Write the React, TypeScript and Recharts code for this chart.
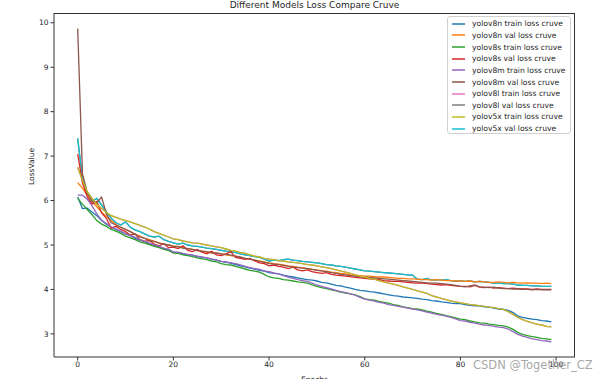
import React from 'react';
import { LineChart, Line, XAxis, YAxis, Legend } from 'recharts';

// Epoch index (x axis)
const epochs: number[] = Array.from({ length: 100 }, (_, i) => i);

const yolov8nTrain = [
  6.08, 5.82, 5.83, 5.74, 5.66, 5.55, 5.47, 5.40, 5.35, 5.30,
  5.25, 5.21, 5.15, 5.11, 5.08, 5.02, 4.99, 4.96, 4.92, 4.88,
  4.84, 4.83, 4.80, 4.78, 4.77, 4.74, 4.72, 4.71, 4.68, 4.66,
  4.63, 4.61, 4.59, 4.56, 4.53, 4.51, 4.48, 4.46, 4.43, 4.41,
  4.38, 4.36, 4.35, 4.32, 4.30, 4.28, 4.26, 4.24, 4.22, 4.21,
  4.19, 4.16, 4.15, 4.12, 4.09, 4.08, 4.05, 4.03, 4.00, 3.98,
  3.97, 3.95, 3.94, 3.92, 3.90, 3.88, 3.86, 3.85, 3.83, 3.82,
  3.81, 3.80, 3.78, 3.77, 3.75, 3.74, 3.72, 3.71, 3.69, 3.68,
  3.68, 3.66, 3.64, 3.63, 3.63, 3.61, 3.60, 3.58, 3.56, 3.55,
  3.53, 3.48, 3.40, 3.37, 3.35, 3.33, 3.32, 3.30, 3.29, 3.27,
];
const yolov8nVal = [
  6.40, 6.28, 6.12, 5.98, 5.86, 5.74, 5.64, 5.55, 5.46, 5.40,
  5.35, 5.30, 5.24, 5.20, 5.15, 5.12, 5.08, 5.05, 5.02, 5.00,
  4.98, 4.97, 4.94, 4.92, 4.90, 4.87, 4.86, 4.84, 4.82, 4.81,
  4.80, 4.78, 4.76, 4.75, 4.72, 4.70, 4.68, 4.66, 4.64, 4.62,
  4.60, 4.58, 4.57, 4.55, 4.53, 4.52, 4.50, 4.49, 4.47, 4.45,
  4.44, 4.42, 4.41, 4.39, 4.38, 4.36, 4.35, 4.33, 4.32, 4.31,
  4.30, 4.30, 4.29, 4.28, 4.28, 4.27, 4.26, 4.25, 4.25, 4.24,
  4.24, 4.23, 4.22, 4.22, 4.21, 4.22, 4.21, 4.20, 4.20, 4.19,
  4.19, 4.18, 4.19, 4.17, 4.18, 4.17, 4.16, 4.16, 4.17, 4.16,
  4.15, 4.16, 4.15, 4.14, 4.15, 4.14, 4.14, 4.13, 4.14, 4.13,
];
const yolov8sTrain = [
  6.05, 5.92, 5.80, 5.68, 5.55, 5.47, 5.42, 5.35, 5.31, 5.26,
  5.20, 5.16, 5.12, 5.07, 5.04, 5.01, 4.97, 4.94, 4.90, 4.88,
  4.82, 4.81, 4.78, 4.76, 4.74, 4.71, 4.69, 4.67, 4.64, 4.62,
  4.58, 4.56, 4.55, 4.52, 4.49, 4.46, 4.43, 4.41, 4.39, 4.34,
  4.28, 4.26, 4.25, 4.22, 4.21, 4.19, 4.17, 4.16, 4.14, 4.10,
  4.07, 4.04, 4.02, 3.99, 3.97, 3.94, 3.92, 3.90, 3.88, 3.84,
  3.79, 3.77, 3.76, 3.73, 3.71, 3.69, 3.66, 3.64, 3.61, 3.59,
  3.57, 3.56, 3.54, 3.51, 3.49, 3.46, 3.44, 3.41, 3.39, 3.36,
  3.33, 3.32, 3.29, 3.27, 3.25, 3.24, 3.22, 3.21, 3.19, 3.18,
  3.15, 3.10, 3.03, 2.99, 2.96, 2.94, 2.92, 2.90, 2.89, 2.87,
];
const yolov8sVal = [
  7.05, 6.40, 6.08, 5.92, 5.98, 5.72, 5.60, 5.38, 5.42, 5.35,
  5.30, 5.22, 5.25, 5.12, 5.08, 5.10, 5.02, 4.98, 5.03, 4.94,
  4.95, 4.92, 4.98, 4.88, 4.85, 4.90, 4.84, 4.80, 4.86, 4.78,
  4.76, 4.80, 4.85, 4.72, 4.70, 4.68, 4.70, 4.64, 4.60, 4.58,
  4.53, 4.55, 4.52, 4.50, 4.47, 4.50, 4.44, 4.42, 4.44, 4.40,
  4.38, 4.36, 4.38, 4.34, 4.32, 4.31, 4.30, 4.29, 4.27, 4.26,
  4.25, 4.24, 4.23, 4.22, 4.20, 4.19, 4.18, 4.18, 4.17, 4.16,
  4.15, 4.14, 4.15, 4.13, 4.12, 4.11, 4.10, 4.11, 4.09, 4.08,
  4.07, 4.07, 4.06, 4.09, 4.05, 4.04, 4.05, 4.03, 4.04, 4.03,
  4.02, 4.03, 4.02, 4.01, 4.01, 4.00, 4.01, 4.00, 4.00, 4.00,
];
const yolov8mTrain = [
  6.12, 6.12, 6.03, 5.88, 5.70, 5.56, 5.48, 5.41, 5.36, 5.31,
  5.25, 5.21, 5.17, 5.12, 5.08, 5.04, 5.00, 4.97, 4.93, 4.91,
  4.84, 4.84, 4.81, 4.79, 4.77, 4.75, 4.73, 4.71, 4.68, 4.66,
  4.63, 4.62, 4.60, 4.58, 4.55, 4.52, 4.49, 4.47, 4.45, 4.42,
  4.40, 4.37, 4.35, 4.31, 4.28, 4.25, 4.22, 4.20, 4.18, 4.14,
  4.10, 4.07, 4.04, 4.01, 3.98, 3.95, 3.93, 3.90, 3.87, 3.82,
  3.78, 3.76, 3.74, 3.71, 3.69, 3.66, 3.64, 3.62, 3.60, 3.58,
  3.56, 3.54, 3.52, 3.49, 3.47, 3.44, 3.42, 3.40, 3.37, 3.34,
  3.30, 3.29, 3.26, 3.24, 3.22, 3.20, 3.19, 3.17, 3.15, 3.14,
  3.11, 3.05, 2.99, 2.95, 2.92, 2.89, 2.87, 2.85, 2.84, 2.82,
];
const yolov8mVal = [
  9.87, 6.60, 6.18, 5.98, 5.95, 6.08, 5.70, 5.50, 5.45, 5.40,
  5.35, 5.30, 5.24, 5.18, 5.15, 5.10, 5.08, 5.04, 5.02, 5.00,
  4.97, 4.96, 4.93, 4.92, 4.90, 4.88, 4.86, 4.85, 4.83, 4.82,
  4.80, 4.79, 4.77, 4.75, 4.73, 4.70, 4.68, 4.66, 4.63, 4.61,
  4.58, 4.57, 4.56, 4.54, 4.52, 4.50, 4.49, 4.48, 4.47, 4.45,
  4.43, 4.42, 4.40, 4.38, 4.36, 4.34, 4.33, 4.31, 4.30, 4.29,
  4.28, 4.27, 4.26, 4.25, 4.24, 4.23, 4.22, 4.21, 4.20, 4.19,
  4.18, 4.17, 4.16, 4.15, 4.14, 4.14, 4.13, 4.12, 4.11, 4.09,
  4.07, 4.06, 4.08, 4.10, 4.06, 4.05, 4.04, 4.05, 4.03, 4.02,
  4.02, 4.01, 4.01, 4.00, 4.00, 3.99, 4.00, 3.99, 3.99, 3.99,
];
const yolov5xTrain = [
  6.75, 6.45, 6.20, 6.05, 5.92, 5.82, 5.73, 5.66, 5.62, 5.58,
  5.55, 5.52, 5.48, 5.44, 5.40, 5.36, 5.30, 5.26, 5.22, 5.18,
  5.14, 5.12, 5.09, 5.07, 5.05, 5.04, 5.02, 5.00, 4.98, 4.96,
  4.94, 4.91, 4.88, 4.86, 4.83, 4.81, 4.78, 4.75, 4.73, 4.70,
  4.68, 4.67, 4.65, 4.64, 4.62, 4.61, 4.60, 4.58, 4.56, 4.55,
  4.53, 4.51, 4.49, 4.47, 4.44, 4.41, 4.39, 4.36, 4.33, 4.30,
  4.28, 4.25, 4.23, 4.20, 4.17, 4.14, 4.12, 4.09, 4.06, 4.03,
  4.00, 3.97, 3.94, 3.91, 3.86, 3.83, 3.80, 3.77, 3.74, 3.72,
  3.70, 3.68, 3.66, 3.65, 3.63, 3.62, 3.60, 3.59, 3.57, 3.55,
  3.50, 3.44, 3.37, 3.32, 3.28, 3.25, 3.22, 3.20, 3.17, 3.16,
];
const yolov5xVal = [
  7.40, 6.50, 6.15, 5.98, 6.05, 5.90, 5.75, 5.60, 5.50, 5.45,
  5.52, 5.40, 5.34, 5.30, 5.25, 5.20, 5.18, 5.20, 5.12, 5.08,
  5.05, 5.02, 5.04, 5.00, 4.98, 4.97, 4.95, 4.93, 4.92, 4.90,
  4.88, 4.86, 4.85, 4.83, 4.80, 4.78, 4.76, 4.74, 4.72, 4.68,
  4.64, 4.66, 4.65, 4.67, 4.68, 4.66, 4.65, 4.63, 4.62, 4.61,
  4.60, 4.58, 4.56, 4.55, 4.53, 4.52, 4.50, 4.48, 4.46, 4.44,
  4.42, 4.41, 4.40, 4.39, 4.38, 4.37, 4.36, 4.35, 4.34, 4.33,
  4.32, 4.23, 4.22, 4.25, 4.21, 4.22, 4.21, 4.22, 4.20, 4.19,
  4.19, 4.18, 4.19, 4.17, 4.18, 4.17, 4.16, 4.14, 4.14, 4.13,
  4.13, 4.12, 4.10, 4.09, 4.09, 4.08, 4.08, 4.07, 4.07, 4.07,
];
// yolov8l curves are not visible in the reference: they lie beneath the yolov5x curves
const yolov8lTrain = yolov5xTrain;
const yolov8lVal = yolov5xVal;

const xTicks = [0, 20, 40, 60, 80, 100];
const yTicks = [3, 4, 5, 6, 7, 8, 9, 10];

const series = [
  { key: 'v8nTrain', name: 'yolov8n train loss cruve', color: '#1f77b4', values: yolov8nTrain },
  { key: 'v8nVal', name: 'yolov8n val loss cruve', color: '#ff7f0e', values: yolov8nVal },
  { key: 'v8sTrain', name: 'yolov8s train loss cruve', color: '#2ca02c', values: yolov8sTrain },
  { key: 'v8sVal', name: 'yolov8s val loss cruve', color: '#d62728', values: yolov8sVal },
  { key: 'v8mTrain', name: 'yolov8m train loss cruve', color: '#9467bd', values: yolov8mTrain },
  { key: 'v8mVal', name: 'yolov8m val loss cruve', color: '#8c564b', values: yolov8mVal },
  { key: 'v8lTrain', name: 'yolov8l train loss cruve', color: '#e377c2', values: yolov8lTrain },
  { key: 'v8lVal', name: 'yolov8l val loss cruve', color: '#7f7f7f', values: yolov8lVal },
  { key: 'v5xTrain', name: 'yolov5x train loss cruve', color: '#bcbd22', values: yolov5xTrain },
  { key: 'v5xVal', name: 'yolov5x val loss cruve', color: '#17becf', values: yolov5xVal },
];

// drawing order (bottom to top)
const drawOrder = ['v8lTrain', 'v8lVal', 'v5xVal', 'v8nTrain', 'v8nVal', 'v8sTrain', 'v8sVal', 'v8mTrain', 'v8mVal', 'v5xTrain'];

const data = epochs.map((e, i) => {
  const row: Record<string, number> = { epoch: e };
  series.forEach((s) => {
    row[s.key] = s.values[i];
  });
  return row;
});

const FONT = '"DejaVu Sans", sans-serif';
const TEXT = '#262626';
const SPINE = '#333333';

const renderLegend = () => (
  <div
    style={{
      width: 124,
      height: 118,
      boxSizing: 'border-box',
      border: '1px solid #d0d0d0',
      borderRadius: 3,
      background: 'rgba(255,255,255,0.85)',
      padding: '1px 0 0 0',
      fontFamily: FONT,
      fontSize: 7.6,
      color: TEXT,
    }}
  >
    {series.map((s) => (
      <div key={s.key} style={{ height: 11.65, display: 'flex', alignItems: 'center' }}>
        <svg width={13} height={4} style={{ marginLeft: 4, marginRight: 7, display: 'block' }}>
          <line x1={0} y1={2} x2={13} y2={2} stroke={s.color} strokeWidth={1.5} />
        </svg>
        <span style={{ whiteSpace: 'nowrap' }}>{s.name}</span>
      </div>
    ))}
  </div>
);

export default function App() {
  return (
    <div style={{ position: 'absolute', left: 0, top: 0, width: 600, height: 379, background: '#fff', overflow: 'hidden' }}>
      <div
        style={{
          position: 'absolute',
          left: 54,
          width: 521,
          top: 0,
          textAlign: 'center',
          fontFamily: FONT,
          fontSize: 9,
          color: TEXT,
          lineHeight: '11px',
        }}
      >
        Different Models Loss Compare Cruve
      </div>
      <LineChart width={600} height={379} data={data} margin={{ top: 13, right: 25, bottom: 0, left: 0 }}>
        <XAxis
          dataKey="epoch"
          type="number"
          domain={[-4.95, 103.95]}
          ticks={xTicks}
          allowDataOverflow
          height={22}
          stroke={SPINE}
          tickSize={3.5}
          tickMargin={1.5}
          tick={{ fill: TEXT, fontSize: 7.5, fontFamily: FONT }}
          label={{ value: 'Epochs', position: 'insideBottom', offset: -3, fill: TEXT, fontSize: 7.5, fontFamily: FONT }}
        />
        <YAxis
          type="number"
          domain={[2.48, 10.22]}
          ticks={yTicks}
          allowDataOverflow
          width={54}
          stroke={SPINE}
          tickSize={3.5}
          tickMargin={2}
          tick={{ fill: TEXT, fontSize: 7.5, fontFamily: FONT }}
          label={{ value: 'LossValue', angle: -90, position: 'insideLeft', offset: 31, fill: TEXT, fontSize: 7.5, fontFamily: FONT }}
        />
        {drawOrder.map((k) => {
          const s = series.find((x) => x.key === k)!;
          return (
            <Line
              key={s.key}
              dataKey={s.key}
              name={s.name}
              stroke={s.color}
              strokeWidth={1.3}
              dot={false}
              activeDot={false}
              type="linear"
              isAnimationActive={false}
            />
          );
        })}
        <Legend
          layout="horizontal"
          verticalAlign="middle"
          align="center"
          content={renderLegend}
          wrapperStyle={{ left: 447, top: 16, width: 124, height: 118 }}
        />
      </LineChart>
      {/* top and right spines of the axes box */}
      <div
        style={{
          position: 'absolute',
          left: 54,
          top: 13,
          width: 521,
          height: 344,
          borderTop: `1px solid ${SPINE}`,
          borderRight: `1px solid ${SPINE}`,
          boxSizing: 'border-box',
          pointerEvents: 'none',
        }}
      />
      <div
        style={{
          position: 'absolute',
          left: 473,
          top: 358,
          fontFamily: FONT,
          fontSize: 11.5,
          color: 'rgba(150,150,150,0.85)',
          whiteSpace: 'nowrap',
        }}
      >
        CSDN @Together_CZ
      </div>
    </div>
  );
}
